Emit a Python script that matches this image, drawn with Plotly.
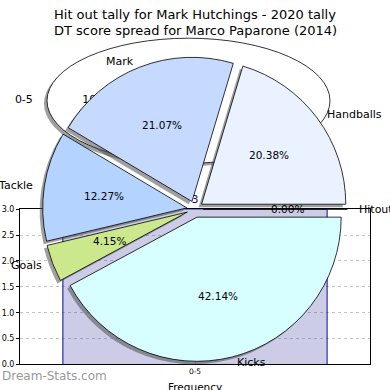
import math
import plotly.graph_objects as go

# ---------------- data ----------------
title_lines = ["Hit out tally for Mark Hutchings - 2020 tally",
               "DT score spread for Marco Paparone (2014)"]

# bar chart (hit-out frequency)
bar_categories = ["0-5"]
bar_values = [3]

# background pie (hit-out tally share)
back_labels = ["0-5"]
back_values = [3]

# front pie (DT score spread)
pie_labels = ["Hitout", "Handballs", "Mark", "Tackle", "Goals", "Kicks"]
pie_values = [0.00, 20.38, 21.07, 12.27, 4.15, 42.14]
pie_colors = ["#d0d0d0", "#eaf1ff", "#c6d9ff", "#b4d4ff", "#cce88c", "#d8ffff"]

W = H = 390
FONT = "DejaVu Sans"

# ---------------- layout geometry (pixels) ----------------
PIE_CX, PIE_CY, PIE_R, EXPLODE = 195.0, 210.0, 140.0, 8.0
PULL = EXPLODE / PIE_R
HALF = PIE_R * (1 + 2 * PULL)
SH_DX, SH_DY = -3.0, 3.0

ELL_X0, ELL_X1, ELL_Y0, ELL_Y1 = 47.0, 330.0, 35.0, 163.0

def px_x(v):
    return v / W

def px_y(v):
    return 1 - v / H

fig = go.Figure()

# bar chart on the main axes
fig.add_trace(go.Bar(
    x=bar_categories, y=bar_values,
    marker=dict(color="rgba(51,51,155,0.25)", line=dict(color="#0a0a9a", width=1)),
    text=[str(v) for v in bar_values], textposition="outside",
    textfont=dict(family=FONT, size=11, color="#0a0a9a"),
    cliponaxis=False, showlegend=False, hoverinfo="skip",
    xaxis="x", yaxis="y",
))

# background pie text (drawn under the front pie)
ecx = (ELL_X0 + ELL_X1) / 2
ecy = (ELL_Y0 + ELL_Y1) / 2
erx = (ELL_X1 - ELL_X0) / 2
btot = sum(back_values)
bfrac = back_values[0] / btot
bmid = math.radians(bfrac * 360 / 2)
fig.add_trace(go.Scatter(
    x=[ecx + 1.1 * erx * math.cos(bmid), ecx + 0.64 * erx * math.cos(bmid)],
    y=[ecy, ecy],
    mode="text",
    text=[back_labels[0], "%.0f%%" % (bfrac * 100)],
    textposition=["middle left", "middle center"],
    textfont=dict(family=FONT, size=11, color="black"),
    showlegend=False, hoverinfo="skip", xaxis="x2", yaxis="y2", cliponaxis=False,
))

# shadow of the front pie
fig.add_trace(go.Pie(
    labels=pie_labels, values=pie_values, sort=False,
    direction="counterclockwise", rotation=90,
    pull=[PULL] * len(pie_values),
    marker=dict(colors=["rgba(80,80,80,0.55)"] * len(pie_values), line=dict(width=0)),
    textinfo="none", hoverinfo="skip", showlegend=False,
    domain=dict(x=[px_x(PIE_CX - HALF + SH_DX), px_x(PIE_CX + HALF + SH_DX)],
                y=[px_y(PIE_CY + HALF + SH_DY), px_y(PIE_CY - HALF + SH_DY)]),
))

# front pie
fig.add_trace(go.Pie(
    labels=pie_labels, values=pie_values, sort=False,
    direction="counterclockwise", rotation=90,
    pull=[PULL] * len(pie_values),
    marker=dict(colors=pie_colors, line=dict(color="black", width=0.8)),
    textinfo="none", hoverinfo="skip", showlegend=False,
    domain=dict(x=[px_x(PIE_CX - HALF), px_x(PIE_CX + HALF)],
                y=[px_y(PIE_CY + HALF), px_y(PIE_CY - HALF)]),
))

annotations = []
# pie labels and percentages, placed like matplotlib does
total = sum(pie_values)
theta = 0.0
for lab, v in zip(pie_labels, pie_values):
    frac = v / total
    t1 = theta + frac * 360
    mid = math.radians((theta + t1) / 2)
    cx = PIE_CX + EXPLODE * math.cos(mid)
    cy = PIE_CY - EXPLODE * math.sin(mid)
    lx = cx + 1.1 * PIE_R * math.cos(mid)
    ly = cy - 1.1 * PIE_R * math.sin(mid)
    annotations.append(dict(x=lx, y=ly, xref="x2", yref="y2", text=lab, showarrow=False,
                            xanchor="left" if lx > cx else "right", yanchor="middle",
                            font=dict(family=FONT, size=11, color="black")))
    px = cx + 0.6 * PIE_R * math.cos(mid)
    py = cy - 0.6 * PIE_R * math.sin(mid)
    annotations.append(dict(x=px, y=py, xref="x2", yref="y2", text="%.2f%%" % (frac * 100),
                            showarrow=False, xanchor="center", yanchor="middle",
                            font=dict(family=FONT, size=10.5, color="black")))
    theta = t1

annotations.append(dict(x=195, y=384, xref="x2", yref="y2", text="Frequency", showarrow=False,
                        xanchor="center", yanchor="top",
                        font=dict(family=FONT, size=10.5, color="black")))
annotations.append(dict(x=0, y=381, xref="x2", yref="y2", text="Dream-Stats.com", showarrow=False,
                        xanchor="left", yanchor="middle",
                        font=dict(family=FONT, size=12, color="#999999")))
for i, line in enumerate(title_lines):
    annotations.append(dict(x=195, y=11 + 16 * i, xref="x2", yref="y2", text=line,
                            showarrow=False, xanchor="center", yanchor="middle",
                            font=dict(family=FONT, size=13, color="black")))

shapes = [
    dict(type="circle", xref="x2", yref="y2", layer="below",
         x0=ELL_X0 + SH_DX, x1=ELL_X1 + SH_DX, y0=ELL_Y0 + SH_DY, y1=ELL_Y1 + SH_DY,
         fillcolor="rgba(80,80,80,0.55)", line=dict(width=0)),
    dict(type="circle", xref="x2", yref="y2", layer="below",
         x0=ELL_X0, x1=ELL_X1, y0=ELL_Y0, y1=ELL_Y1,
         fillcolor="white", line=dict(color="black", width=0.8)),
]

fig.update_layout(
    width=W, height=H,
    margin=dict(l=0, r=0, t=0, b=0),
    paper_bgcolor="white", plot_bgcolor="rgba(0,0,0,0)",
    font=dict(family=FONT, color="black"),
    showlegend=False,
    bargap=0.245,
    xaxis=dict(domain=[px_x(20), px_x(370)], type="category",
               showline=True, mirror=True, linecolor="black", linewidth=1,
               ticks="inside", ticklen=3, tickcolor="#999999",
               tickfont=dict(family=FONT, size=7.5, color="black"),
               showgrid=False, zeroline=False, fixedrange=True),
    yaxis=dict(domain=[px_y(369), px_y(210)], range=[0, 3], dtick=0.5, tickformat=".1f",
               showline=True, mirror=True, linecolor="black", linewidth=1,
               ticks="outside", ticklen=3, tickcolor="black",
               tickfont=dict(family=FONT, size=8, color="black"),
               showgrid=True, gridcolor="#c4c4c4", griddash="dot", gridwidth=1,
               zeroline=False, fixedrange=True),
    xaxis2=dict(domain=[0, 1], range=[0, W], visible=False, anchor="y2", fixedrange=True),
    yaxis2=dict(domain=[0, 1], range=[H, 0], visible=False, anchor="x2", fixedrange=True),
    annotations=annotations,
    shapes=shapes,
)

fig.write_html("out.html",
               config={"displayModeBar": False, "staticPlot": True},
               post_script="document.body.style.margin='0';document.body.style.padding='0';")
